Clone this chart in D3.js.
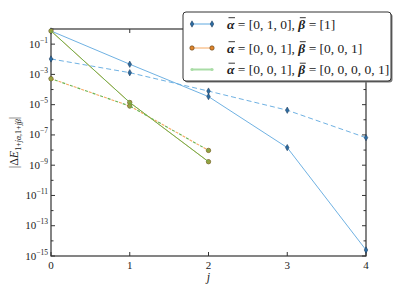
<!DOCTYPE html>
<html>
<head>
<meta charset="utf-8">
<script src="https://cdn.jsdelivr.net/npm/d3@7"></script>
<style>
  body { margin: 0; background: #fff; }
</style>
</head>
<body>
<svg id="chart" width="407" height="285" font-family="'Liberation Serif', 'Times New Roman', Times, serif"></svg>
<script>
// ===== DATA =====
const jValues = [0, 1, 2, 3, 4];
const xTicks = [0, 1, 2, 3, 4];
const yTickExps = [-1, -3, -5, -7, -9, -11, -13, -15];

// alpha=[0,1,0], beta=[1]
const blueSolid = [0.74, 4.7e-3, 3.4e-5, 1.45e-8, 2.5e-15];
const blueDashed = [1.05e-2, 1.3e-3, 7.9e-5, 4.3e-6, 6.6e-8];
// alpha=[0,0,1], beta=[0,0,1]
const orangeSolid = [0.74, 1.4e-5, 1.7e-9];
const orangeDashed = [5.2e-4, 8.1e-6, 9.5e-9];
// alpha=[0,0,1], beta=[0,0,0,0,1]
const greenSolid = [0.74, 1.4e-5, 1.7e-9];
const greenDashed = [5.2e-4, 8.1e-6, 9.5e-9];

const legendLabels = [
  { a: "[0, 1, 0]", b: "[1]" },
  { a: "[0, 0, 1]", b: "[0, 0, 1]" },
  { a: "[0, 0, 1]", b: "[0, 0, 0, 0, 1]" }
];

// ===== LAYOUT =====
const svg = d3.select("#chart");
const mLeft = 51, mRight = 366, mTop = 29, mBottom = 256;

const x = d3.scaleLinear().domain([0, 4]).range([mLeft, mRight]);
const y = d3.scaleLog().domain([1e-15, 1]).range([mBottom, mTop]);

const blue = "#5fa8df", blueMark = "#2b6ca3";
const orange = "#f6a860", orangeMark = "#e0852c";
const green = "#6db24f";
const ink = "#222";

// ===== AXES FRAME + TICKS =====
const frame = svg.append("g");
frame.append("rect")
  .attr("x", mLeft).attr("y", mTop)
  .attr("width", mRight - mLeft).attr("height", mBottom - mTop)
  .attr("fill", "none").attr("stroke", "#333").attr("stroke-width", 1.2);

// decade ticks on left and right (inward)
d3.range(-15, 1).forEach(e => {
  const yy = y(Math.pow(10, e));
  const len = e % 2 !== 0 ? 4 : 2.5;
  frame.append("line").attr("x1", mLeft).attr("x2", mLeft + len)
    .attr("y1", yy).attr("y2", yy).attr("stroke", "#333");
  frame.append("line").attr("x1", mRight).attr("x2", mRight - len)
    .attr("y1", yy).attr("y2", yy).attr("stroke", "#333");
});

xTicks.forEach(t => {
  frame.append("line").attr("x1", x(t)).attr("x2", x(t))
    .attr("y1", mBottom).attr("y2", mBottom - 4).attr("stroke", "#333");
  frame.append("line").attr("x1", x(t)).attr("x2", x(t))
    .attr("y1", mTop).attr("y2", mTop + 4).attr("stroke", "#333");
  frame.append("text")
    .attr("x", x(t)).attr("y", mBottom + 13)
    .attr("text-anchor", "middle")
    .attr("font-size", "11px").attr("fill", ink)
    .text(t);
});

yTickExps.forEach(e => {
  const t = frame.append("text")
    .attr("x", mLeft - 3).attr("y", y(Math.pow(10, e)) + 3.5)
    .attr("text-anchor", "end")
    .attr("font-size", "11px").attr("fill", ink);
  t.append("tspan").text("10");
  t.append("tspan").attr("dy", -5).attr("font-size", "7.5px").text("\u2212" + Math.abs(e));
});

// axis labels
svg.append("text")
  .attr("x", x(2)).attr("y", 281)
  .attr("text-anchor", "middle")
  .attr("font-size", "12px").attr("font-style", "italic").attr("fill", ink)
  .text("j");

const yl = svg.append("text")
  .attr("transform", `translate(18,${(mTop + mBottom) / 2}) rotate(-90)`)
  .attr("text-anchor", "middle")
  .attr("font-size", "12px").attr("fill", ink);
yl.append("tspan").text("|\u0394");
yl.append("tspan").attr("font-style", "italic").text("E");
yl.append("tspan").attr("dy", 3).attr("font-size", "8px").text("1+");
yl.append("tspan").attr("font-size", "8px").attr("font-style", "italic").text("j\u03B1");
yl.append("tspan").attr("font-size", "8px").text(",1+");
yl.append("tspan").attr("font-size", "8px").attr("font-style", "italic").text("j\u03B2");
yl.append("tspan").attr("dy", -3).text("|");

// ===== SERIES =====
const plot = svg.append("g");
const line = d3.line().x((d, i) => x(jValues[i])).y(d => y(d));

function drawSeries(values, color, dash, width, offset) {
  plot.append("path")
    .datum(values)
    .attr("d", line)
    .attr("fill", "none")
    .attr("stroke", color)
    .attr("stroke-width", width)
    .attr("stroke-dasharray", dash)
    .attr("stroke-dashoffset", offset || 0);
}

function diamonds(values) {
  plot.selectAll(null).data(values).enter().append("path")
    .attr("d", "M0,-3.2L1.8,0L0,3.2L-1.8,0Z")
    .attr("transform", (d, i) => `translate(${x(jValues[i])},${y(d)})`)
    .attr("fill", blueMark).attr("stroke", "#1d3550").attr("stroke-width", 0.5);
}

function circles(values, fill, stroke, r) {
  plot.selectAll(null).data(values).enter().append("circle")
    .attr("cx", (d, i) => x(jValues[i])).attr("cy", d => y(d))
    .attr("r", r).attr("fill", fill).attr("stroke", stroke).attr("stroke-width", 0.6);
}

drawSeries(blueSolid, blue, null, 0.9);
drawSeries(blueDashed, blue, "5,3", 0.9);
diamonds(blueSolid);
diamonds(blueDashed);

drawSeries(orangeSolid, orange, null, 0.9);
drawSeries(orangeDashed, orange, "3,5", 1.1);
circles(orangeSolid, orangeMark, "#5a3a10", 2.2);
circles(orangeDashed, orangeMark, "#5a3a10", 2.2);

drawSeries(greenSolid, green, null, 1);
drawSeries(greenDashed, green, "3,5", 1.1, 4);
circles(greenSolid, "rgba(110,178,80,0.6)", "none", 2.2);
circles(greenDashed, "rgba(110,178,80,0.6)", "none", 2.2);

// ===== LEGEND =====
const lg = svg.append("g");
const lx = 183, ly = 12, lw = 208, lh = 69;
lg.append("rect")
  .attr("x", lx + 1.5).attr("y", ly + 1.5).attr("width", lw).attr("height", lh)
  .attr("rx", 3).attr("fill", "#777");
lg.append("rect")
  .attr("x", lx).attr("y", ly).attr("width", lw).attr("height", lh)
  .attr("rx", 3).attr("fill", "#fff").attr("stroke", "#333").attr("stroke-width", 1);

// writes a run of text pieces one after another; bars go over bold symbols
function mathText(g, x0, yb, pieces, size) {
  let cx = x0;
  pieces.forEach(p => {
    const t = g.append("text").attr("x", cx).attr("y", yb)
      .attr("font-size", size + "px").attr("fill", ink)
      .attr("xml:space", "preserve")
      .text(p.s);
    if (p.sym) t.attr("font-weight", "bold").attr("font-style", "italic");
    const w = t.node().getComputedTextLength();
    if (p.sym) {
      g.append("line").attr("x1", cx + 1.5).attr("x2", cx + w + 0.5)
        .attr("y1", yb - size * 0.8).attr("y2", yb - size * 0.8)
        .attr("stroke", ink).attr("stroke-width", 0.9);
    }
    cx += w;
  });
}

const legendColors = [blue, orange, "#a9dca6"];
const rowY = [24, 48, 69.5];
legendLabels.forEach((lab, i) => {
  const yy = rowY[i];
  lg.append("line").attr("x1", 192).attr("x2", 212).attr("y1", yy).attr("y2", yy)
    .attr("stroke", legendColors[i]).attr("stroke-width", i === 2 ? 2 : 1);
  [192, 212].forEach(xx => {
    if (i === 0) {
      lg.append("path").attr("d", "M0,-3.2L1.8,0L0,3.2L-1.8,0Z")
        .attr("transform", `translate(${xx},${yy})`)
        .attr("fill", blueMark).attr("stroke", "#1d3550").attr("stroke-width", 0.5);
    } else if (i === 1) {
      lg.append("circle").attr("cx", xx).attr("cy", yy).attr("r", 2.2)
        .attr("fill", orangeMark).attr("stroke", "#5a3a10").attr("stroke-width", 0.6);
    } else {
      lg.append("circle").attr("cx", xx).attr("cy", yy).attr("r", 1.6)
        .attr("fill", "#a9dca6");
    }
  });
  mathText(lg, 227, yy + 4.5, [
    { s: "\u03B1", sym: true },
    { s: " = " + lab.a + ", " },
    { s: "\u03B2", sym: true },
    { s: " = " + lab.b }
  ], 13.5);
});
</script>
</body>
</html>
